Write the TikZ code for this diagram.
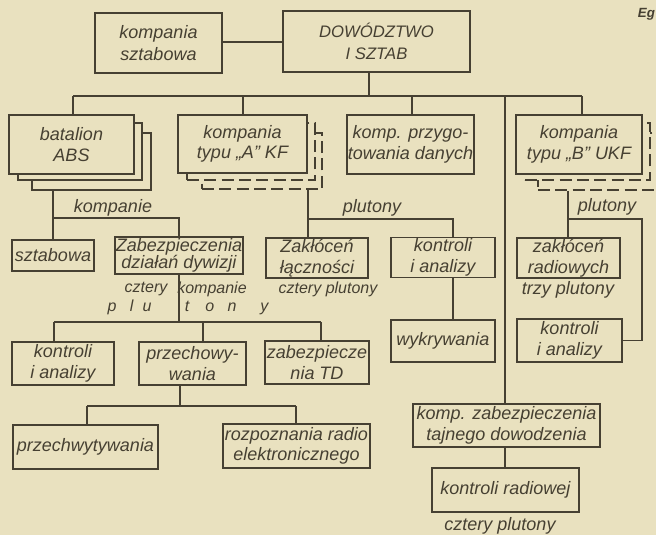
\documentclass[tikz,border=0pt]{standalone}
\usepackage{fontspec}
\setmainfont{Liberation Sans}
\definecolor{paper}{RGB}{233,225,191}
\definecolor{ink}{RGB}{70,64,50}
\newcommand\lettering{\fontsize{13.5}{15.5}\selectfont\itshape}

\begin{document}
\begin{tikzpicture}[x=0.75pt,y=-0.75pt,color=ink,line width=1.4pt,
    box/.style 2 args={draw,fill=paper,minimum width=#1*0.75pt,minimum height=#2*0.75pt,
      inner sep=1pt,align=center,font=\lettering},
    dbox/.style 2 args={box={#1}{#2},dash pattern=on 9pt off 4pt},
    lbl/.style={font=\lettering,inner sep=0pt},
    slbl/.style={font=\fontsize{12}{14}\selectfont\itshape,inner sep=0pt}]
  \fill[paper] (0,0) rectangle (656,535);
  \useasboundingbox (0,0) rectangle (656,535);
  \node[lbl,anchor=west,font=\fontsize{10}{12}\selectfont\itshape\bfseries] (eg) at (637,14) {Eg};

  \node[box={127}{60},font=\fontsize{13.5}{17}\selectfont\itshape] (ksz) at (158.5,43) {kompania\\sztabowa};
  \node[box={187}{61},font=\fontsize{12.5}{16.5}\selectfont\itshape] (dow) at (376.5,41.5) {DOWÓDZTWO\\I SZTAB};

  \node[box={119}{57}] (bat3) at (91.5,161.5) {};
  \node[box={124}{57}] (bat2) at (80,151.5) {};
  \node[box={125}{59}] (bat) at (71.5,144.5) {batalion\\ABS};
  \node[dbox={120}{56}] (kA3) at (262,161) {};
  \node[dbox={128}{57}] (kA2) at (251,151.5) {};
  \node[box={129}{58}] (kA) at (242.5,144) {kompania\\typu „A” KF};
  \node[box={127}{59}] (kP) at (410.5,144.5) {komp. przygo-\\towania danych};
  \node[dbox={124}{57}] (kB3) at (600,161.5) {};
  \node[dbox={125}{57}] (kB2) at (587.5,151.5) {};
  \node[box={126}{59}] (kB) at (579,144.5) {kompania\\typu „B” UKF};

  \node[box={82}{31}] (sz) at (53,255.5) {sztabowa};
  \node[box={128}{31},font=\fontsize{13.5}{13}\selectfont\itshape] (zab) at (179,255.5) {Zabezpieczenia\\działań dywizji};
  \node[box={102}{40}] (zak) at (317,258) {Zakłóceń\\łączności};
  \node[box={104}{39}] (kAa) at (443,257.5) {kontroli\\i analizy};
  \node[box={104}{42}] (wyk) at (443,341) {wykrywania};
  \node[box={103}{40}] (zR) at (568.5,258) {zakłóceń\\radiowych};
  \node[box={105}{43}] (kBa) at (569.5,340.5) {kontroli\\i analizy};

  \node[box={102}{43}] (kAn) at (63,363.5) {kontroli\\i analizy};
  \node[box={107}{43}] (prz) at (192.5,363.5) {przechowy-\\wania};
  \node[box={104}{43}] (zTD) at (317,362.5) {zabezpiecze\\nia TD};
  \node[box={145}{44}] (pw) at (85.5,447) {przechwytywania};
  \node[box={147}{44}] (roz) at (296.5,446) {rozpoznania radio\\elektronicznego};

  \node[box={187}{43}] (kz) at (506.5,425.5) {komp. zabezpieczenia\\tajnego dowodzenia};
  \node[box={147}{44}] (kr) at (505.5,490) {kontroli radiowej};

  \node[lbl] (l1) at (113,208) {kompanie};
  \node[lbl] (l2) at (372,208) {plutony};
  \node[lbl] (l3) at (607,207) {plutony};
  \node[slbl] (l4) at (146,289) {cztery};
  \node[slbl] (l5) at (212,289) {kompanie};
  \node[slbl] (l6) at (328,289) {cztery plutony};
  \node[slbl] (l7) at (188,307) {p\hspace{10pt}l\hspace{7pt}u\hspace{25pt}t\hspace{12pt}o\hspace{10pt}n\hspace{18pt}y};
  \node[lbl] (l8) at (568,290) {trzy plutony};
  \node[lbl] (l9) at (500,526) {cztery plutony};

  \draw (ksz.east |- 0,42) -- (dow.west |- 0,42);
  \draw (dow.south -| 369,0) -- (369,96);
  \draw (73,96) -- (582,96);
  \foreach \x/\n in {73/bat,243/kA,412/kP,582/kB,505/kz}
    \draw (\x,96) -- (\x,96 |- \n.north);

  \draw (bat3.south -| sz.north) -- (sz.north);
  \draw (sz.north |- 0,218) -| (zab.north);
  \draw (zab.south) -- (zab.south |- 0,322);
  \draw (54,322) -- (321,322);
  \foreach \x/\n in {54/kAn,203/prz,321/zTD}
    \draw (\x,322) -- (\x,322 |- \n.north);
  \draw (prz.south -| 180,0) -- (180,406);
  \draw (87,406) -- (296,406);
  \foreach \x/\n in {87/pw,296/roz}
    \draw (\x,406) -- (\x,406 |- \n.north);

  \draw (kA3.south -| 308,0) -- (308,0 |- zak.north);
  \draw (308,219) -| (453,0 |- kAa.north);
  \draw (kAa.south -| 453,0) -- (453,0 |- wyk.north);
  \draw (kB3.south -| 568,0) -- (568,0 |- zR.north);
  \draw (568,219) -| (642,0 |- kBa.east) -- (kBa.east);
  \draw (kz.south -| 505,0) -- (505,0 |- kr.north);
\end{tikzpicture}
\end{document}
